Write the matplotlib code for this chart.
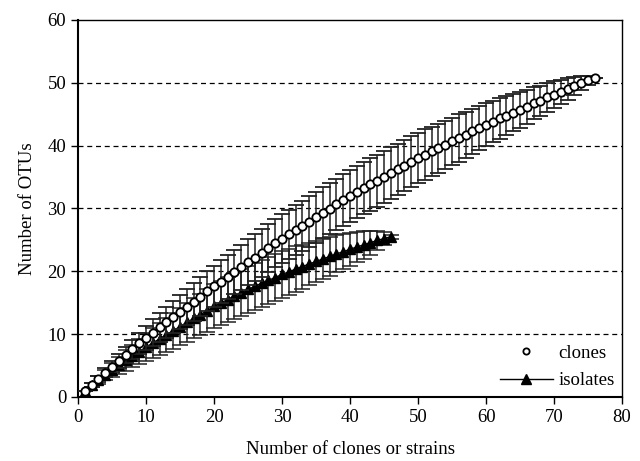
import matplotlib
matplotlib.use("Agg")
import matplotlib.pyplot as plt
from matplotlib.lines import Line2D

plt.rcParams["font.family"] = ["Liberation Serif", "DejaVu Serif"]

# rarefaction curves: mean number of OTUs and standard deviation
clones_n = list(range(1, 77))
clones_otu = [
    1.0, 1.95, 2.9, 3.85, 4.8, 5.75, 6.7, 7.6, 8.5, 9.4,
    10.25, 11.05, 11.9, 12.7, 13.5, 14.35, 15.15, 15.95, 16.8, 17.6,
    18.35, 19.1, 19.9, 20.65, 21.4, 22.15, 22.9, 23.7, 24.45, 25.2,
    25.9, 26.55, 27.25, 27.9, 28.6, 29.3, 29.95, 30.65, 31.3, 32.0,
    32.6, 33.2, 33.8, 34.4, 35.0, 35.6, 36.2, 36.8, 37.4, 38.0,
    38.55, 39.05, 39.6, 40.1, 40.65, 41.2, 41.7, 42.25, 42.75, 43.3,
    43.8, 44.3, 44.75, 45.25, 45.7, 46.2, 46.7, 47.15, 47.65, 48.1,
    48.55, 49.0, 49.45, 49.9, 50.35, 50.8,
]
clones_sd = [
    0.0, 0.3, 0.5, 0.7, 0.9, 1.1, 1.3, 1.5, 1.7, 1.9,
    2.1, 2.3, 2.45, 2.6, 2.75, 2.9, 3.0, 3.1, 3.2, 3.3,
    3.4, 3.5, 3.55, 3.6, 3.65, 3.7, 3.75, 3.8, 3.85, 3.9,
    3.9, 3.95, 4.0, 4.0, 4.05, 4.05, 4.1, 4.1, 4.1, 4.15,
    4.15, 4.15, 4.15, 4.15, 4.15, 4.1, 4.1, 4.1, 4.05, 4.0,
    4.0, 3.95, 3.9, 3.85, 3.8, 3.75, 3.7, 3.6, 3.5, 3.4,
    3.3, 3.2, 3.1, 3.0, 2.85, 2.7, 2.55, 2.4, 2.25, 2.1,
    1.9, 1.7, 1.4, 1.1, 0.7, 0.0,
]

isolates_n = list(range(1, 47))
isolates_otu = [
    1.0, 1.85, 2.7, 3.5, 4.3, 5.05, 5.8, 6.5, 7.2, 7.9,
    8.6, 9.25, 9.9, 10.55, 11.2, 11.85, 12.5, 13.1, 13.75, 14.4,
    14.95, 15.5, 16.05, 16.6, 17.1, 17.6, 18.1, 18.55, 19.0, 19.5,
    19.9, 20.35, 20.75, 21.15, 21.55, 21.95, 22.35, 22.75, 23.1, 23.5,
    23.85, 24.2, 24.55, 24.9, 25.2, 25.5,
]
isolates_sd = [
    0.0, 0.35, 0.6, 0.85, 1.1, 1.35, 1.6, 1.8, 2.0, 2.2,
    2.4, 2.55, 2.7, 2.85, 3.0, 3.1, 3.2, 3.3, 3.4, 3.5,
    3.55, 3.6, 3.65, 3.7, 3.75, 3.75, 3.75, 3.75, 3.7, 3.7,
    3.65, 3.6, 3.5, 3.4, 3.3, 3.2, 3.1, 2.95, 2.8, 2.65,
    2.45, 2.2, 1.9, 1.5, 1.0, 0.3,
]

fig = plt.figure(figsize=(6.4, 4.61), dpi=100)
ax = fig.add_axes([0.122, 0.139, 0.85, 0.818])

for y in (10, 20, 30, 40, 50):
    ax.axhline(y, color="black", lw=0.9, ls=(0, (4, 3)), zorder=0)

ax.errorbar(isolates_n, isolates_otu, yerr=isolates_sd, fmt="-^", color="black",
            ms=6.5, lw=1, ecolor="#222222", elinewidth=1.1, capsize=6, capthick=1.1, zorder=3)
ax.errorbar(clones_n, clones_otu, yerr=clones_sd, fmt="o", color="black",
            mfc="white", mec="black", mew=1.3, ms=6, ecolor="#222222",
            elinewidth=1.1, capsize=6, capthick=1.1, zorder=4)

ax.set_xlim(0, 80)
ax.set_ylim(0, 60)
ax.set_xticks(range(0, 81, 10))
ax.set_yticks(range(0, 61, 10))
ax.tick_params(direction="out", length=5, width=1, labelsize=13.5)
for s in ax.spines.values():
    s.set_linewidth(1)
ax.spines["left"].set_linewidth(1.5)
ax.spines["bottom"].set_linewidth(1.5)

ax.set_xlabel("Number of clones or strains", fontsize=13.5, labelpad=11)
ax.set_ylabel("Number of OTUs", fontsize=13.5, labelpad=8)

handles = [
    Line2D([], [], marker="o", ls="none", mfc="white", mec="black", mew=1.3, ms=4.5),
    Line2D([], [], marker="^", ls="-", color="black", ms=7, lw=1),
]
ax.legend(handles, ["clones", "isolates"], loc="lower right", frameon=False,
          fontsize=13.5, handlelength=2.8, handletextpad=0.3, labelspacing=0.55,
          borderaxespad=0.0)

fig.savefig("out.png", dpi=100)
